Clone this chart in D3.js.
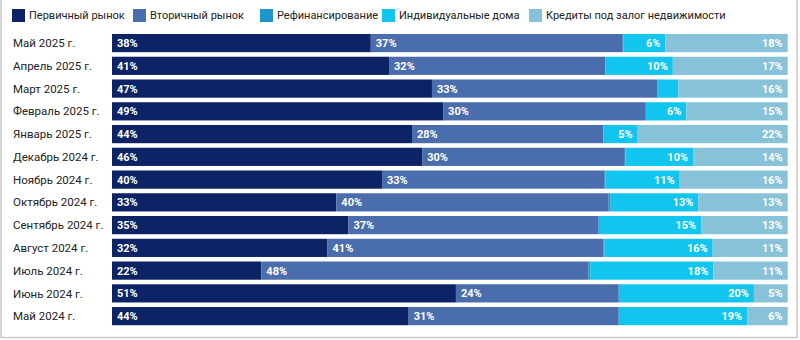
<!DOCTYPE html>
<html><head><meta charset="utf-8">
<script src="https://cdn.jsdelivr.net/npm/d3@7"></script>
<style>
html,body{margin:0;padding:0;background:#fff;}
svg{display:block;font-family:Roboto,"Noto Sans",sans-serif;}
</style></head>
<body>
<svg id="c" width="800" height="340"></svg>
<script>
const categories = ["Май 2025 г.","Апрель 2025 г.","Март 2025 г.","Февраль 2025 г.","Январь 2025 г.","Декабрь 2024 г.","Ноябрь 2024 г.","Октябрь 2024 г.","Сентябрь 2024 г.","Август 2024 г.","Июль 2024 г.","Июнь 2024 г.","Май 2024 г."];
const seriesNames = ["Первичный рынок","Вторичный рынок","Рефинансирование","Индивидуальные дома","Кредиты под залог недвижимости"];
const primary   = [38.3,41.0,47.4,49.0,44.4,45.9,40.0,33.2,35.0,31.9,22.1,50.9,43.9];
const secondary = [37.3,32.0,33.4,30.0,28.3,30.0,33.0,40.3,37.0,40.8,48.4,24.1,31.1];
const refinance = [0.1,0.0,0.1,0.0,0.0,0.1,0.1,0.3,0.2,0.2,0.3,0.0,0.0];
const houses    = [6.2,10.0,3.0,6.0,5.1,10.0,11.0,13.0,15.0,16.0,18.2,20.0,19.0];
const credits   = [18.1,17.0,16.2,15.0,22.2,14.0,16.0,13.2,12.8,11.1,11.0,5.0,6.0];
const colors = ["#0c2366","#4a6dad","#1b97cc","#12c5ee","#88c2d9"];

const seriesValues = [primary, secondary, refinance, houses, credits];
const rows = categories.map((c,i)=>{
  const o = {cat:c};
  seriesNames.forEach((s,k)=>o[s]=seriesValues[k][i]);
  return o;
});

const svg = d3.select("#c");

// frame
svg.append("path").attr("d","M1,0 V337.5 H797 V0").attr("fill","none")
  .attr("stroke","#c8c8c8").attr("stroke-width",1.5);

const x = d3.scaleLinear().domain([0,100]).range([112,787.7]);
const y = d3.scaleBand().domain(categories).range([31.7,327.5]).paddingInner(0.2).paddingOuter(0.1);

const stack = d3.stack().keys(seriesNames).offset(d3.stackOffsetExpand);
const stacked = stack(rows);

const g = svg.append("g");
const layers = g.selectAll("g.layer").data(stacked).join("g").attr("class","layer")
  .attr("fill",(d,i)=>colors[i]);
layers.selectAll("rect").data(d=>d).join("rect")
  .attr("x",d=>x(d[0]*100))
  .attr("width",d=>x(d[1]*100)-x(d[0]*100))
  .attr("y",d=>y(d.data.cat))
  .attr("height",y.bandwidth());

// labels
stacked.forEach((layer,k)=>{
  if (k===2) return;
  const right = k>=3;
  g.append("g").selectAll("text").data(layer.filter(d=>d.data[seriesNames[k]]>=4.5)).join("text")
    .attr("x",d=> right ? x(d[1]*100)-5 : x(d[0]*100)+5)
    .attr("y",d=>y(d.data.cat)+y.bandwidth()/2)
    .attr("dy","0.36em")
    .attr("text-anchor", right ? "end" : "start")
    .attr("fill","#fff").attr("font-size",11).attr("font-weight",700)
    .text(d=>Math.round(d.data[seriesNames[k]])+"%");
});

// category axis labels
svg.append("g").selectAll("text").data(categories).join("text")
  .attr("x",13).attr("y",d=>y(d)+y.bandwidth()/2).attr("dy","0.36em")
  .attr("font-size",11.5).attr("fill","#222").text(d=>d);

// legend
const legendX = [12,133,260,382,529];
const lg = svg.append("g").selectAll("g").data(seriesNames).join("g")
  .attr("transform",(d,i)=>`translate(${legendX[i]},9)`);
lg.append("rect").attr("width",13).attr("height",13).attr("fill",(d,i)=>colors[i]);
lg.append("text").attr("x",17).attr("y",6.5).attr("dy","0.36em")
  .attr("font-size",11).attr("fill","#222").text(d=>d);
</script>
</body></html>
